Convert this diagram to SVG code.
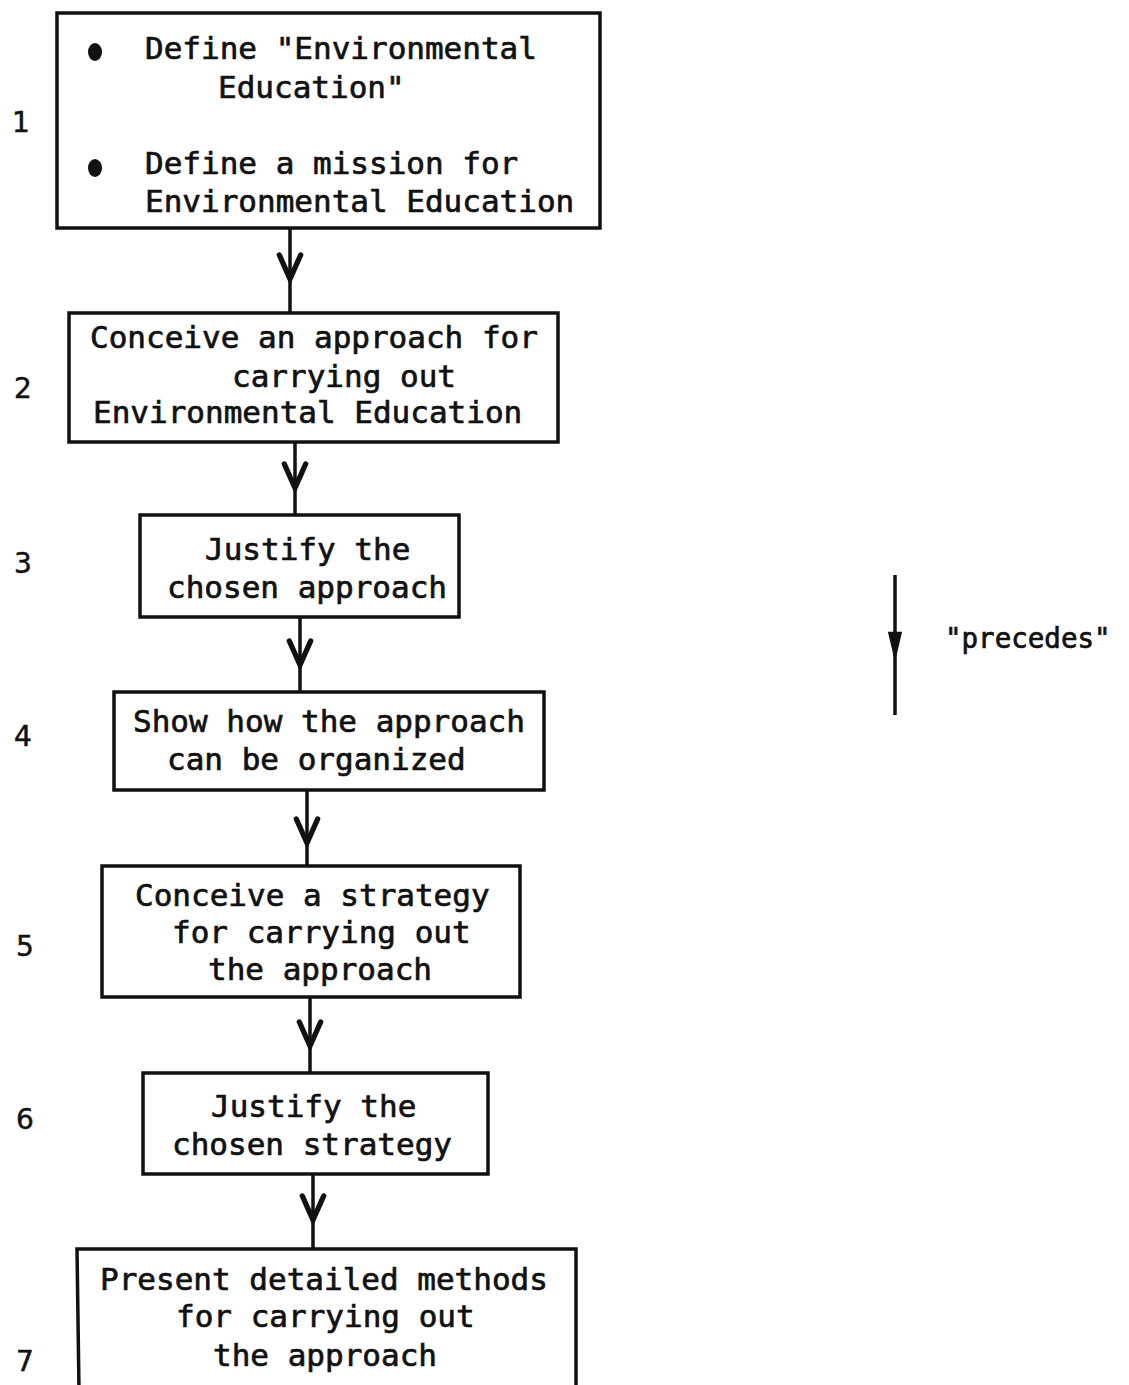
<svg xmlns="http://www.w3.org/2000/svg" width="1129" height="1385" viewBox="0 0 1129 1385">
<style>
.box{fill:none;stroke:#111;stroke-width:3.5}
.t{font-family:"DejaVu Sans Mono","Liberation Mono",monospace;font-size:31px;fill:#111;stroke:#111;stroke-width:0.7}
.lbl{font-family:"DejaVu Sans",sans-serif;font-size:28px;fill:#111;stroke:#111;stroke-width:0.5}
.c{fill:none;stroke:#111;stroke-width:3.5}
</style>
<defs>
<marker id="vee" markerUnits="userSpaceOnUse" markerWidth="40" markerHeight="40" refX="0" refY="0" viewBox="-25 -15 30 30" orient="auto" overflow="visible">
<path d="M-18,-8 L0,0 L-18,8" fill="none" stroke="#111" stroke-width="4" stroke-linecap="round"/>
</marker>
<marker id="tri" markerUnits="userSpaceOnUse" markerWidth="40" markerHeight="40" refX="0" refY="0" viewBox="-40 -10 45 20" orient="auto" overflow="visible">
<path d="M-34,-8 L0,0 L-34,8 Z" fill="#111"/>
</marker>
</defs>
<rect width="1129" height="1385" fill="#fff"/>
<g id="connectors">
<polyline class="c" points="290,228 290,279 290,313" marker-mid="url(#vee)"/>
<polyline class="c" points="295,442 295,488 295,515" marker-mid="url(#vee)"/>
<polyline class="c" points="300,617 300,665 300,692" marker-mid="url(#vee)"/>
<polyline class="c" points="307,790 307,843 307,866" marker-mid="url(#vee)"/>
<polyline class="c" points="310,997 310,1046 310,1073" marker-mid="url(#vee)"/>
<polyline class="c" points="313,1174 313,1220 313,1249" marker-mid="url(#vee)"/>
</g>
<g id="node1">
<rect class="box" x="57" y="13" width="543" height="215"/>
<ellipse cx="95" cy="52" rx="7" ry="9" fill="#111"/>
<ellipse cx="95" cy="168" rx="7" ry="9" fill="#111"/>
<text class="t" x="145" y="59">Define "Environmental</text>
<text class="t" x="218" y="98">Education"</text>
<text class="t" x="145" y="174">Define a mission for</text>
<text class="t" x="145" y="212">Environmental Education</text>
<text class="lbl" x="12" y="132">1</text>
</g>
<g id="node2">
<rect class="box" x="69" y="313" width="489" height="129"/>
<text class="t" x="90" y="348">Conceive an approach for</text>
<text class="t" x="232" y="387">carrying out</text>
<text class="t" x="93" y="423">Environmental Education</text>
<text class="lbl" x="14" y="398">2</text>
</g>
<g id="node3">
<rect class="box" x="140" y="515" width="319" height="102"/>
<text class="t" x="205" y="560">Justify the</text>
<text class="t" x="167" y="598">chosen approach</text>
<text class="lbl" x="14" y="573">3</text>
</g>
<g id="node4">
<rect class="box" x="114" y="692" width="430" height="98"/>
<text class="t" x="133" y="732">Show how the approach</text>
<text class="t" x="167" y="770">can be organized</text>
<text class="lbl" x="14" y="746">4</text>
</g>
<g id="node5">
<rect class="box" x="102" y="866" width="418" height="131"/>
<text class="t" x="135" y="906">Conceive a strategy</text>
<text class="t" x="172" y="943">for carrying out</text>
<text class="t" x="208" y="980">the approach</text>
<text class="lbl" x="16" y="956">5</text>
</g>
<g id="node6">
<rect class="box" x="143" y="1073" width="345" height="101"/>
<text class="t" x="211" y="1117">Justify the</text>
<text class="t" x="172" y="1155">chosen strategy</text>
<text class="lbl" x="16" y="1129">6</text>
</g>
<g id="node7">
<path class="box" d="M79,1390 L77,1249 L576,1249 L576,1390"/>
<text class="t" x="100" y="1290">Present detailed methods</text>
<text class="t" x="176" y="1327">for carrying out</text>
<text class="t" x="213" y="1366">the approach</text>
<text class="lbl" x="16" y="1371">7</text>
</g>
<g id="legend">
<polyline class="c" points="895,575 895,662 895,715" marker-mid="url(#tri)"/>
<text class="t" x="945" y="648" style="font-size:27.5px">"precedes"</text>
</g>
</svg>
